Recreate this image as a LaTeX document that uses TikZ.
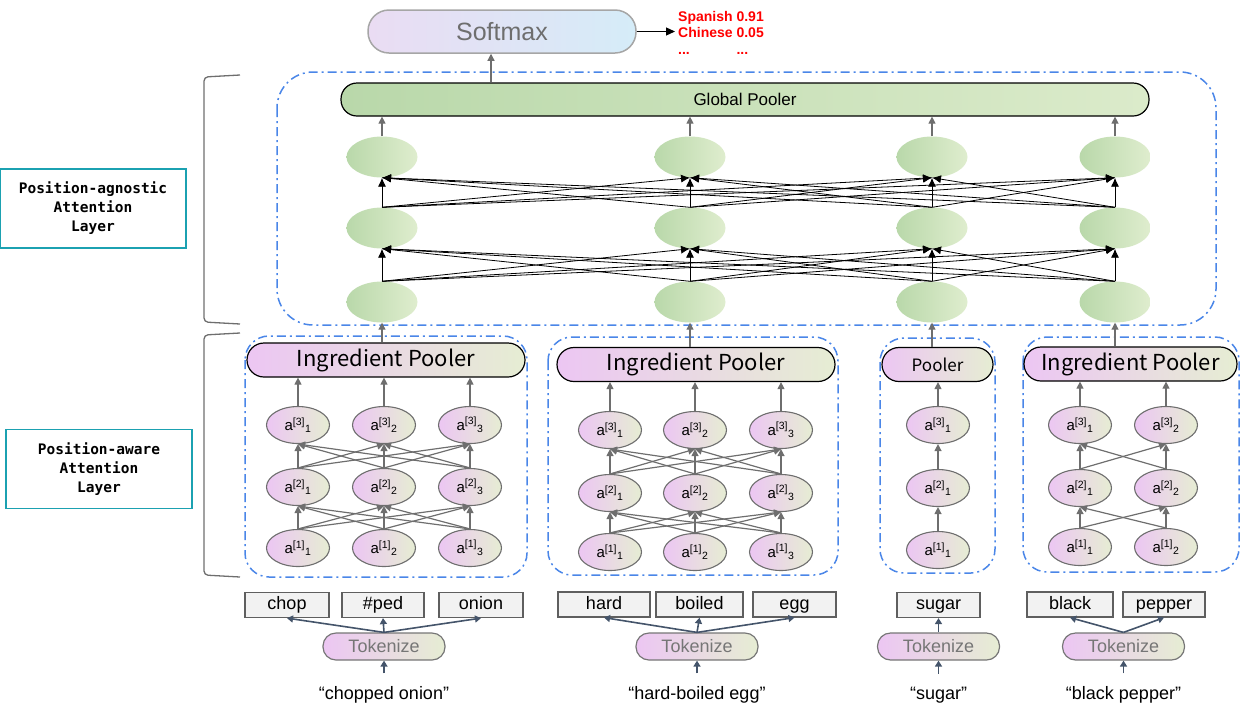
\documentclass[tikz,border=0pt]{standalone}
\usepackage{fontspec}
\setmainfont{Liberation Sans}
\setmonofont{DejaVu Sans Mono}
\newfontfamily\poolfont{Noto Sans CJK SC}
\usetikzlibrary{arrows.meta,shapes.geometric,positioning}

\definecolor{dblue}{HTML}{4A86E8}
\definecolor{lteal}{HTML}{1BA1B1}
\definecolor{tblue}{HTML}{44546A}
\definecolor{gL}{HTML}{B9D8AA}
\definecolor{gR}{HTML}{DFEDCE}
\definecolor{pL}{HTML}{ECC6F3}
\definecolor{pR}{HTML}{E6EDD3}
\definecolor{sL}{HTML}{EADCF3}
\definecolor{sR}{HTML}{D5ECF8}
\definecolor{agray}{HTML}{6E6E6E}
\definecolor{tgray}{HTML}{767676}
\definecolor{wgray}{HTML}{5F5F5F}
\definecolor{wfill}{HTML}{F2F2F2}

\tikzset{
  gell/.style={ellipse, minimum width=71pt, minimum height=41pt, inner sep=0pt, left color=gL, right color=gR},
  aell/.style={ellipse, draw=agray, line width=1.1pt, minimum width=63pt, minimum height=37pt, inner sep=0pt,
    left color=pL, right color=pR, font=\fontsize{15}{17}\selectfont},
  ipool/.style={draw=black, line width=1.2pt, rounded corners=17pt, left color=pL, right color=pR,
    minimum height=34pt, inner sep=0pt, font=\poolfont\fontsize{22}{24}\selectfont},
  word/.style={draw=wgray, fill=wfill, line width=1.2pt, minimum height=25pt, inner sep=0pt,
    text height=13pt, text depth=4pt, font=\fontsize{18}{20}\selectfont},
  tokz/.style={draw=tgray, line width=1.2pt, rounded corners=13pt, left color=pL, right color=pR,
    minimum width=122pt, minimum height=27pt, inner sep=0pt, text=tgray, font=\fontsize{18}{20}\selectfont},
  grpbox/.style={draw=dblue, line width=1.5pt, dash pattern=on 9pt off 4pt on 2pt off 4pt, rounded corners=24pt},
  aarr/.style={draw=agray, line width=1.2pt, -{Triangle[length=7pt,width=7pt]}},
  garr/.style={draw=black, line width=0.8pt, -{Latex[length=9pt,width=8pt]}},
  tarr/.style={draw=tblue, line width=1.6pt, -{Triangle[length=6pt,width=7pt]}},
  lbox/.style={draw=lteal, line width=1.3pt, minimum width=186pt, minimum height=79pt, align=center,
    font=\ttfamily\bfseries\fontsize{14.5}{19}\selectfont},
  brack/.style={draw=agray, line width=1.3pt, rounded corners=4pt}
}

\begin{document}
\begin{tikzpicture}[x=1pt,y=-1pt]
\useasboundingbox (0,0) rectangle (1246,716);

% softmax and output
\node[draw=gray!70, line width=1.5pt, rounded corners=21pt, left color=sL, right color=sR,
  minimum width=268pt, minimum height=43pt, text=agray, font=\fontsize{25}{28}\selectfont] (soft) at (502,31.5) {Softmax};
\node[anchor=west, align=left, text=red, inner sep=3pt, font=\bfseries\fontsize{14}{16.5}\selectfont] (out) at (675,32.5)
  {Spanish 0.91\\Chinese 0.05\\\makebox[4.17em][l]{...}...};
\draw[-{Triangle[length=9pt,width=8pt]}, line width=1.2pt] (soft.east) -- (soft.east -| out.west);

% left brackets and labels
\draw[brack] (240,75) -- (204,77) -- (204,322) -- (240,324);
\draw[brack] (240,333) -- (204,335) -- (204,575) -- (240,577);
\node[lbox] (lagn) at (93,208.5) {Position-agnostic\\Attention\\Layer};
\node[lbox] (laware) at (99,469) {Position-aware\\Attention\\Layer};

% position-agnostic layer
\draw[grpbox, rounded corners=36pt] (277,72) rectangle (1216,325);
\node[draw=black, line width=1.2pt, rounded corners=16pt, left color=gL, right color=gR!90!gL,
  minimum width=808pt, minimum height=33pt, inner sep=0pt, font=\fontsize{17}{20}\selectfont] (gpool) at (745,99.5) {Global Pooler};
\draw[aarr] ([xshift=-11pt]soft.south |- gpool.north) -- ([xshift=-11pt]soft.south);
\foreach \x [count=\i] in {382,690,932,1115} {
  \node[gell] (gn-1-\i) at (\x,302) {};
  \node[gell] (gn-2-\i) at (\x,228) {};
  \node[gell] (gn-3-\i) at (\x,157) {};
  \draw[aarr] (gn-3-\i.north) -- (gn-3-\i.north |- gpool.south);
}
\foreach \l/\m in {1/2,2/3}
  \foreach \i in {1,...,4}
    \foreach \j in {1,...,4}
      \draw[garr] (gn-\l-\i.north) -- (gn-\m-\j.south);

% position-aware layer
\draw[grpbox] (245,336) rectangle (527,577);
\draw[grpbox] (548,337) rectangle (838,575);
\draw[grpbox] (880,338) rectangle (995,573);
\draw[grpbox] (1023,337) rectangle (1239,572);
\node[ipool, minimum width=278pt] (p1) at (386,360) {Ingredient Pooler};
\node[ipool, minimum width=278pt] (p2) at (696,364.5) {Ingredient Pooler};
\node[ipool, minimum width=111pt, font=\poolfont\fontsize{17}{20}\selectfont] (p3) at (937.5,364.5) {Pooler};
\node[ipool, minimum width=213pt] (p4) at (1130.5,364) {Ingredient Pooler};
\foreach \g in {1,...,4}
  \draw[aarr] (gn-1-\g.south |- p\g.north) -- (gn-1-\g.south);

\foreach \g/\n/\xs/\ya/\yb/\yc in {1/3/{298,384,470}/548/487/425, 2/3/{610,695,781}/552/493/430,
    3/1/{938}/550/488/425, 4/2/{1080,1166}/547/488/425} {
  \foreach \x [count=\i] in \xs {
    \node[aell] (a\g-1-\i) at (\x,\ya) {a\textsuperscript{[1]}\textsubscript{\i}};
    \node[aell] (a\g-2-\i) at (\x,\yb) {a\textsuperscript{[2]}\textsubscript{\i}};
    \node[aell] (a\g-3-\i) at (\x,\yc) {a\textsuperscript{[3]}\textsubscript{\i}};
    \draw[aarr] (a\g-3-\i.north) -- (a\g-3-\i.north |- p\g.south);
  }
  \foreach \l/\m in {1/2,2/3}
    \foreach \i in {1,...,\n}
      \foreach \j in {1,...,\n}
        \draw[aarr] (a\g-\l-\i.north) -- (a\g-\m-\j.south);
}

% tokens
\foreach \g/\tx in {1/384,2/697,3/938.5,4/1123.5} {
  \node[tokz] (tk\g) at (\tx,646.5) {Tokenize};
}
\node[word, minimum width=84pt] (w1-1) at (287,605) {chop};
\node[word, minimum width=82pt] (w1-2) at (383,605) {\#ped};
\node[word, minimum width=84pt] (w1-3) at (481,605) {onion};
\node[word, minimum width=92pt] (w2-1) at (604,604.5) {hard};
\node[word, minimum width=87pt] (w2-2) at (699.5,604.5) {boiled};
\node[word, minimum width=83pt] (w2-3) at (794.5,604.5) {egg};
\node[word, minimum width=83pt] (w3-1) at (938.5,605) {sugar};
\node[word, minimum width=86pt] (w4-1) at (1070,604.5) {black};
\node[word, minimum width=82pt] (w4-2) at (1164,604.5) {pepper};
\foreach \g/\n in {1/3,2/3,3/1,4/2}
  \foreach \i in {1,...,\n}
    \draw[tarr] (tk\g.north) -- (w\g-\i.south);

\node[inner sep=0pt, font=\fontsize{18}{20}\selectfont] (in1) at (384,695) {“chopped onion”};
\node[inner sep=0pt, font=\fontsize{18}{20}\selectfont] (in2) at (697,695) {“hard-boiled egg”};
\node[inner sep=0pt, font=\fontsize{18}{20}\selectfont] (in3) at (938.5,695) {“sugar”};
\node[inner sep=0pt, font=\fontsize{18}{20}\selectfont] (in4) at (1123.5,695) {“black pepper”};
\foreach \g in {1,...,4}
  \draw[tarr, shorten <=13pt] (in\g.north) -- (tk\g.south);
\end{tikzpicture}
\end{document}
